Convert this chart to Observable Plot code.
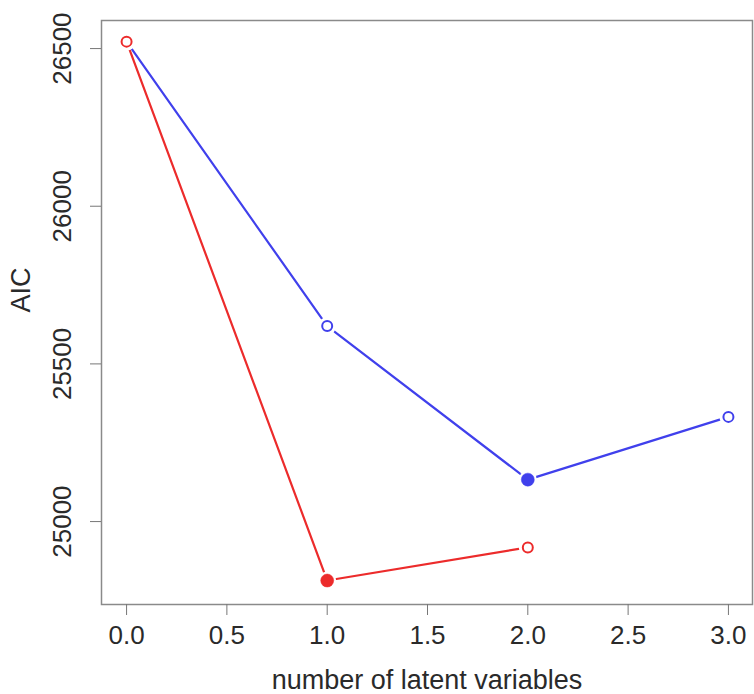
<!DOCTYPE html>
<html>
<head>
<meta charset="utf-8">
<script src="https://cdn.jsdelivr.net/npm/d3@7"></script>
<script src="https://cdn.jsdelivr.net/npm/@observablehq/plot@0.6"></script>
<style>
  html, body { margin: 0; padding: 0; background: #fff; }
  #chart svg { display: block; }
</style>
</head>
<body>
<div id="chart"></div>
<script>
const latentBlue = [0, 1, 2, 3];
const aicBlue = [26522, 25620, 25133, 25332];
const latentRed = [0, 1, 2];
const aicRed = [26522, 24813, 24918];
const xTicks = [0, 0.5, 1, 1.5, 2, 2.5, 3];
const yTicks = [25000, 25500, 26000, 26500];

const blueColor = "#4040ec";
const redColor = "#ec2b2b";

function series(xs, ys, color, name) {
  const minY = d3.min(ys);
  return xs.map((x, i) => ({x, y: ys[i], color, name, filled: ys[i] === minY}));
}
const blue = series(latentBlue, aicBlue, blueColor, "blue");
const red = series(latentRed, aicRed, redColor, "red");

function layer(data, color) {
  return [
    Plot.line(data, {x: "x", y: "y", stroke: color, strokeWidth: 2.2}),
    Plot.dot(data, {x: "x", y: "y", r: 9, fill: "white", stroke: "none"}),
    Plot.dot(data.filter(d => !d.filled), {x: "x", y: "y", r: 5, fill: "white", stroke: color, strokeWidth: 2}),
    Plot.dot(data.filter(d => d.filled), {x: "x", y: "y", r: 6.5, fill: color, stroke: color, strokeWidth: 0.5})
  ];
}

const chart = Plot.plot({
  width: 754,
  height: 694,
  marginLeft: 101,
  marginRight: 2,
  marginTop: 20,
  marginBottom: 90,
  style: {fontFamily: "'Liberation Sans', Arial, sans-serif", background: "white"},
  x: {domain: [-0.125, 3.12]},
  y: {domain: [24737, 26589]},
  marks: [
    Plot.frame({stroke: "#8a8a8a", strokeWidth: 1.5}),
    Plot.axisX({ticks: xTicks, tickFormat: d3.format(".1f"), tickSize: 11, tickPadding: 10, fontSize: 26, color: "#2a2a2a", stroke: "#777", label: null}),
    Plot.axisY({ticks: yTicks, tickFormat: d => String(d), tickSize: 11, tickPadding: 20, fontSize: 26, color: "#2a2a2a", stroke: "#777", tickRotate: -90, label: null}),
    Plot.text(["number of latent variables"], {frameAnchor: "bottom", dy: 84, fontSize: 27, fill: "#2a2a2a"}),
    Plot.text(["AIC"], {frameAnchor: "left", dx: -80, rotate: -90, fontSize: 27, fill: "#2a2a2a"}),
    ...layer(blue, blueColor),
    ...layer(red, redColor)
  ]
});
document.getElementById("chart").appendChild(chart);
</script>
</body>
</html>
